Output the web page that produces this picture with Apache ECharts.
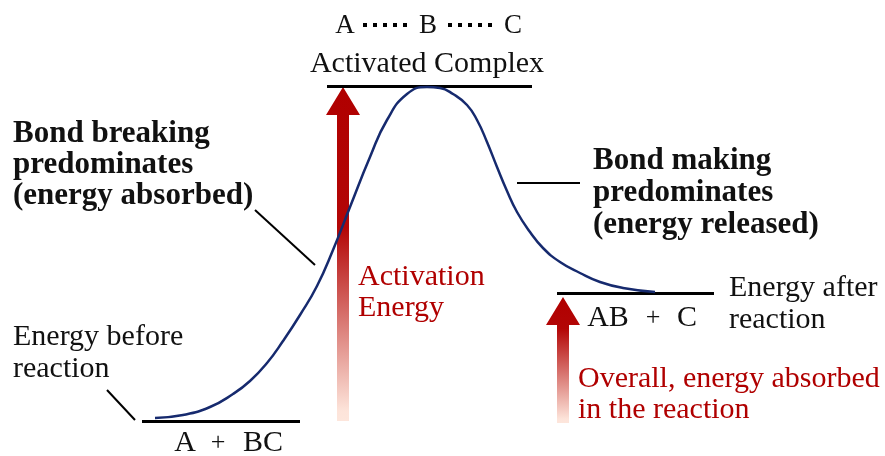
<!DOCTYPE html>
<html>
<head>
<meta charset="utf-8">
<script src="https://cdn.jsdelivr.net/npm/echarts@6/dist/echarts.min.js"></script>
<style>html,body{margin:0;padding:0;background:#fff}#c{width:885px;height:456px}</style>
</head>
<body>
<div id="c"></div>
<script>
// Reaction coordinate (x) and energy (y) of the potential-energy curve
var curveX = [155,183,210,233,250,267,283,300,317,333,350,370,387,407,427,440,453,467,477,487,497,507,517,530,543,560,580,600,623,655];
var curveE = [38,41,49,62,75,93,115,141,170,206,249,299,336,362,369,368,362,351,336,314,289,265,244,224,208,194,183,174,168,164];
// Energy levels: reactants, activated complex, products
var levelNames = ['A + BC','Activated Complex','AB + C'];
var levelX0 = [142,327,557];
var levelX1 = [300,532,714];
var levelE  = [35,370,163];
// Energy arrows: activation energy, overall energy absorbed
var arrowNames = ['Activation Energy','Overall, energy absorbed'];
var arrowX = [343,563];
var arrowFrom = [35,33];
var arrowTo = [369,159];
// Leader lines [x0,E0,x1,E1]
var leaders = [[107,66,135,36],[255,246,315,191],[517,273,580,273]];
// dotted bonds in A····B····C
var bonds = [[363,431,407,431],[448,431,493,431]];

var FONT = "'Liberation Serif', 'DejaVu Serif', serif";
var RED = '#b00000';

var chart = echarts.init(document.getElementById('c'));

function txt(text, x, y, opts) {
  opts = opts || {};
  return {
    type: 'text', silent: true,
    style: {
      text: text, x: x, y: y,
      font: (opts.bold ? 'bold ' : '') + (opts.size || 30) + 'px ' + FONT,
      fill: opts.color || '#111',
      textAlign: opts.align || 'left',
      textVerticalAlign: 'middle'
    }
  };
}

var option = {
  animation: false,
  grid: {left: 0, right: 0, top: 0, bottom: 0},
  xAxis: {type: 'value', min: 0, max: 885, show: false},
  yAxis: {type: 'value', min: 0, max: 456, show: false},
  series: [
    {
      type: 'custom',
      name: 'arrows',
      renderItem: function (params, api) {
        var p0 = api.coord([api.value(0), api.value(1)]);
        var p1 = api.coord([api.value(0), api.value(2)]);
        var cx = p0[0], yb = p0[1], yt = p1[1];
        var sw = 6, hw = 17, hh = 28;
        return {
          type: 'polygon',
          shape: {points: [
            [cx - sw, yb], [cx - sw, yt + hh], [cx - hw, yt + hh], [cx, yt],
            [cx + hw, yt + hh], [cx + sw, yt + hh], [cx + sw, yb]
          ]},
          style: {
            fill: new echarts.graphic.LinearGradient(0, 0, 0, 1, [
              {offset: 0, color: '#b00000'},
              {offset: params.dataIndex === 0 ? 0.42 : 0.25, color: '#b30606'},
              {offset: 0.97, color: '#fde4da'},
              {offset: 1, color: '#fde6dc'}
            ])
          }
        };
      },
      data: arrowX.map(function (x, i) { return [x, arrowFrom[i], arrowTo[i]]; }),
      z: 1
    },
    {
      type: 'lines',
      coordinateSystem: 'cartesian2d',
      name: 'levels',
      lineStyle: {color: '#000', width: 3, opacity: 1},
      data: levelX0.map(function (x, i) { return {name: levelNames[i], coords: [[x, levelE[i]], [levelX1[i], levelE[i]]]}; }),
      z: 3
    },
    {
      type: 'lines',
      coordinateSystem: 'cartesian2d',
      name: 'leaders',
      lineStyle: {color: '#000', width: 2, opacity: 1},
      data: leaders.map(function (l) { return {coords: [[l[0], l[1]], [l[2], l[3]]]}; }),
      z: 3
    },
    {
      type: 'lines',
      coordinateSystem: 'cartesian2d',
      name: 'bonds',
      lineStyle: {color: '#000', width: 4, opacity: 1, type: [4, 6], cap: 'butt'},
      data: bonds.map(function (l) { return {coords: [[l[0], l[1]], [l[2], l[3]]]}; }),
      z: 3
    },
    {
      type: 'line',
      name: 'energy',
      smooth: 0.5,
      symbol: 'none',
      lineStyle: {color: '#162a6e', width: 2.5},
      data: curveX.map(function (x, i) { return [x, curveE[i]]; }),
      z: 4
    }
  ],
  graphic: [
    txt('A', 345, 26, {align: 'center', size: 27}),
    txt('B', 428, 26, {align: 'center', size: 27}),
    txt('C', 513, 26, {align: 'center', size: 27}),
    txt('Activated Complex', 427, 64, {align: 'center', size: 30}),
    txt('Bond breaking', 13, 134, {bold: true, size: 31}),
    txt('predominates', 13, 165, {bold: true, size: 31}),
    txt('(energy absorbed)', 13, 196, {bold: true, size: 31}),
    txt('Bond making', 593, 161, {bold: true, size: 31}),
    txt('predominates', 593, 193, {bold: true, size: 31}),
    txt('(energy released)', 593, 225, {bold: true, size: 31}),
    txt('Activation', 358, 277, {color: RED}),
    txt('Energy', 358, 308, {color: RED}),
    txt('Energy before', 13, 337),
    txt('reaction', 13, 369),
    txt('A', 185, 443, {align: 'center'}),
    txt('+', 218, 443, {align: 'center', size: 26}),
    txt('BC', 263, 443, {align: 'center'}),
    txt('AB', 608, 318, {align: 'center'}),
    txt('+', 653, 318, {align: 'center', size: 26}),
    txt('C', 687, 318, {align: 'center'}),
    txt('Energy after', 729, 288),
    txt('reaction', 729, 320),
    txt('Overall, energy absorbed', 578, 379, {color: RED}),
    txt('in the reaction', 578, 410, {color: RED})
  ]
};
chart.setOption(option);
</script>
</body>
</html>
